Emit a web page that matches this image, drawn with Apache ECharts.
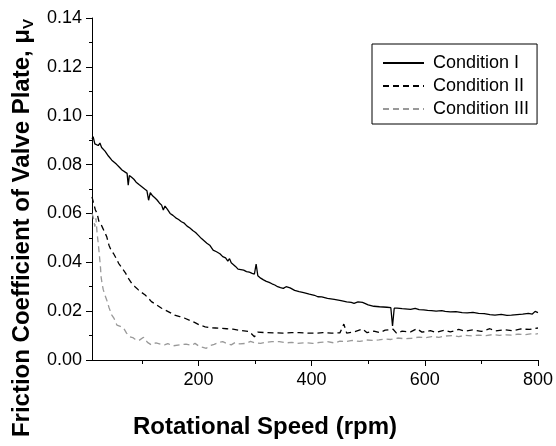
<!DOCTYPE html>
<html><head><meta charset="utf-8">
<script src="https://cdn.jsdelivr.net/npm/echarts@6/dist/echarts.min.js"></script>
<style>html,body{margin:0;padding:0;background:#fff}#c{width:556px;height:446px}</style>
</head><body><div id="c"></div>
<script>
const seriesNames = ['Condition I', 'Condition II', 'Condition III'];
const xMajorTicks = [200, 400, 600, 800];
const xMinorTicks = [100, 300, 500, 700];

const rpm1 = [12,14,17,20,23,26,29,32,35,38,41,44,47,50,55,60,65,70,74,76,78,82,86,90,95,100,105,109,112,115,119,123,127,131,135,138,141,145,150,155,160,165,170,175,180,185,190,195,200,205,210,215,220,226,232,238,243,248,252,255,258,262,266,270,275,280,285,290,295,299,302,305,310,315,320,325,330,335,340,345,350,355,358,362,366,370,378,386,396,405,411,418,428,440,452,462,470,475,482,490,500,510,520,533,540,543,546,551,560,575,583,590,598,605,612,620,630,636,645,655,666,675,685,695,705,715,724,735,745,753,763,773,783,790,795,800];
const cond1 = [0.0905,0.0914,0.0885,0.0890,0.0878,0.0888,0.0870,0.0862,0.0855,0.0848,0.0835,0.0840,0.0818,0.0812,0.0802,0.0790,0.0778,0.0770,0.0764,0.0716,0.0755,0.0748,0.0740,0.0728,0.0718,0.0709,0.0700,0.0693,0.0654,0.0685,0.0672,0.0664,0.0655,0.0643,0.0634,0.0614,0.0630,0.0618,0.0600,0.0592,0.0582,0.0575,0.0566,0.0560,0.0548,0.0540,0.0530,0.0522,0.0510,0.0498,0.0488,0.0478,0.0470,0.0450,0.0443,0.0435,0.0423,0.0418,0.0405,0.0415,0.0398,0.0390,0.0382,0.0372,0.0370,0.0368,0.0362,0.0360,0.0355,0.0352,0.0393,0.0345,0.0335,0.0328,0.0322,0.0318,0.0312,0.0307,0.0300,0.0296,0.0293,0.0300,0.0308,0.0295,0.0290,0.0285,0.0280,0.0276,0.0270,0.0265,0.0259,0.0258,0.0252,0.0248,0.0243,0.0238,0.0236,0.0232,0.0238,0.0236,0.0226,0.0220,0.0218,0.0216,0.0214,0.0139,0.0212,0.0212,0.0210,0.0207,0.0211,0.0206,0.0205,0.0203,0.0202,0.0200,0.0202,0.0199,0.0197,0.0198,0.0194,0.0193,0.0195,0.0191,0.0190,0.0186,0.0184,0.0187,0.0183,0.0184,0.0186,0.0188,0.0191,0.0188,0.0199,0.0194];

const rpm2 = [12,15,18,21,24,27,30,34,38,42,46,50,55,59,64,71,76,82,88,94,100,106,112,117,123,129,135,141,150,158,167,176,185,194,203,212,220,230,238,250,261,275,290,299,305,319,335,349,365,378,393,408,420,435,450,457,462,475,490,498,510,520,530,544,550,560,575,586,595,610,620,635,645,660,670,685,700,715,725,740,755,770,785,800];
const cond2 = [0.0668,0.0640,0.0614,0.0600,0.0569,0.0560,0.0545,0.0525,0.0505,0.0470,0.0448,0.0436,0.0415,0.0396,0.0380,0.0357,0.0335,0.0314,0.0300,0.0287,0.0276,0.0266,0.0252,0.0239,0.0230,0.0221,0.0212,0.0205,0.0194,0.0184,0.0178,0.0171,0.0162,0.0153,0.0142,0.0136,0.0132,0.0131,0.0130,0.0128,0.0126,0.0121,0.0116,0.0095,0.0114,0.0112,0.0111,0.0110,0.0112,0.0112,0.0110,0.0110,0.0112,0.0110,0.0111,0.0147,0.0110,0.0115,0.0127,0.0112,0.0118,0.0112,0.0122,0.0126,0.0110,0.0118,0.0115,0.0128,0.0114,0.0120,0.0113,0.0122,0.0115,0.0125,0.0118,0.0123,0.0117,0.0128,0.0119,0.0124,0.0120,0.0127,0.0125,0.0131];

const rpm3 = [12,14,16,17,19,21,23,25,27,28,30,32,35,38,42,47,51,56,62,68,73,79,84,88,95,103,110,117,125,133,140,146,155,167,178,188,194,202,208,214,220,228,236,243,250,258,265,273,284,292,300,310,320,330,343,355,365,375,388,402,415,428,440,450,460,472,485,497,508,519,530,540,552,565,577,590,600,612,625,636,648,660,672,684,695,708,720,732,743,753,765,777,787,795,800];
const cond3 = [0.0600,0.0587,0.0560,0.0546,0.0580,0.0519,0.0478,0.0430,0.0380,0.0341,0.0310,0.0287,0.0265,0.0246,0.0215,0.0184,0.0170,0.0143,0.0138,0.0130,0.0110,0.0095,0.0092,0.0085,0.0080,0.0093,0.0072,0.0062,0.0070,0.0065,0.0062,0.0067,0.0058,0.0062,0.0065,0.0060,0.0068,0.0055,0.0052,0.0048,0.0058,0.0064,0.0072,0.0075,0.0068,0.0062,0.0072,0.0066,0.0068,0.0076,0.0070,0.0068,0.0073,0.0075,0.0075,0.0070,0.0072,0.0068,0.0071,0.0068,0.0072,0.0075,0.0070,0.0077,0.0075,0.0080,0.0076,0.0082,0.0080,0.0082,0.0086,0.0084,0.0090,0.0087,0.0089,0.0094,0.0091,0.0096,0.0093,0.0098,0.0100,0.0096,0.0101,0.0099,0.0102,0.0100,0.0104,0.0101,0.0103,0.0102,0.0106,0.0104,0.0107,0.0106,0.0108];

const FF = 'Liberation Sans, Arial, sans-serif';
const zip = (xs, ys) => xs.map((x, i) => [x, ys[i]]);

const chart = echarts.init(document.getElementById('c'), null, {renderer: 'canvas'});
chart.setOption({
  animation: false,
  backgroundColor: '#fff',
  grid: {left: 92, right: 16, top: 18, bottom: 86},
  legend: {
    orient: 'vertical', left: 372, top: 44,
    itemWidth: 41, itemHeight: 18, itemGap: 5,
    padding: [10, 8, 6, 10],
    borderColor: '#000', borderWidth: 1,
    itemStyle: {opacity: 0},
    textStyle: {fontFamily: FF, fontSize: 18, color: '#000', padding: [0, 0, 0, 4]},
    data: seriesNames
  },
  xAxis: [{
    type: 'value', min: 12, max: 800,
    name: 'Rotational Speed (rpm)', nameLocation: 'middle', nameGap: 55,
    nameTextStyle: {fontFamily: FF, fontSize: 24, fontWeight: 'bold', color: '#000', padding: [0, 100, 0, 0]},
    axisLine: {show: true, onZero: false, lineStyle: {color: '#000', width: 1}},
    axisTick: {show: true, length: 6, customValues: xMajorTicks, lineStyle: {color: '#000'}},
    axisLabel: {fontFamily: FF, fontSize: 18, color: '#000', margin: 11, customValues: xMajorTicks},
    splitLine: {show: false}
  }, {
    type: 'value', min: 12, max: 800, position: 'bottom',
    axisLine: {show: false, onZero: false},
    axisTick: {show: true, length: 4, customValues: xMinorTicks, lineStyle: {color: '#000'}},
    axisLabel: {show: false},
    splitLine: {show: false}
  }],
  yAxis: {
    type: 'value', min: 0, max: 0.14, interval: 0.02,
    name: '{a|Friction Coefficient of Valve Plate, μ}{s|V}', nameLocation: 'middle', nameGap: 56,
    nameTextStyle: {color: '#000', padding: [0, 78, 0, 0],
      rich: {a: {fontFamily: FF, fontSize: 24, fontWeight: 'bold', color: '#000', lineHeight: 28},
             s: {fontFamily: FF, fontSize: 15, fontWeight: 'bold', color: '#000', lineHeight: 22, verticalAlign: 'bottom'}}},
    axisLine: {show: true, lineStyle: {color: '#000', width: 1}},
    axisTick: {show: true, length: 6, lineStyle: {color: '#000'}},
    minorTick: {show: true, splitNumber: 2, length: 3, lineStyle: {color: '#000'}},
    axisLabel: {fontFamily: FF, fontSize: 18, color: '#000', margin: 10, formatter: v => v.toFixed(2)},
    splitLine: {show: false}
  },
  series: [
    {name: seriesNames[0], type: 'line', xAxisIndex: 0, data: zip(rpm1, cond1), symbol: 'none',
     lineStyle: {color: '#000', width: 1.3, type: 'solid'}, itemStyle: {color: '#000'}},
    {name: seriesNames[1], type: 'line', xAxisIndex: 0, data: zip(rpm2, cond2), symbol: 'none',
     lineStyle: {color: '#000', width: 1.3, type: [6, 4]}, itemStyle: {color: '#000'}},
    {name: seriesNames[2], type: 'line', xAxisIndex: 0, data: zip(rpm3, cond3), symbol: 'none',
     lineStyle: {color: '#999', width: 1.3, type: [6, 4]}, itemStyle: {color: '#999'}}
  ]
});
</script></body></html>
